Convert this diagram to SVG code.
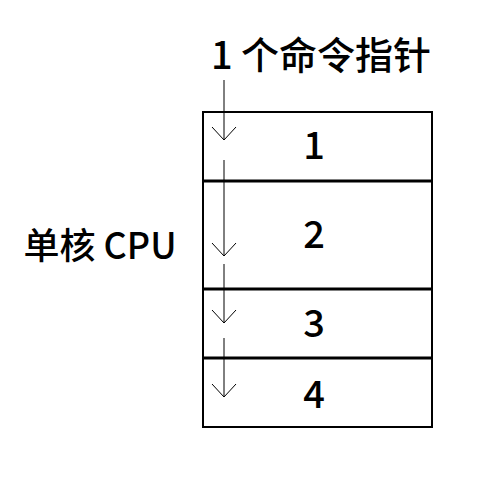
<svg xmlns="http://www.w3.org/2000/svg" width="500" height="500" viewBox="0 0 500 500">
<style>
text{font-family:"Noto Sans CJK SC","Noto Sans",sans-serif;fill:#000;font-weight:500}
.box{fill:none;stroke:#000;stroke-width:2}
.div{stroke:#000;stroke-width:3}
.arr{fill:none;stroke:#000;stroke-width:1}
</style>
<rect width="500" height="500" fill="#fff"/>
<g id="title"><text x="321" y="69" font-size="38" text-anchor="middle">1 个命令指针</text></g>
<g id="cpu-label"><text x="100" y="259" font-size="36" text-anchor="middle" font-weight="400">单核 CPU</text></g>
<g id="cpu">
<rect class="box" x="203" y="112" width="229" height="315"/>
<line class="div" x1="203" y1="181" x2="432" y2="181"/>
<line class="div" x1="203" y1="289" x2="432" y2="289"/>
<line class="div" x1="203" y1="358" x2="432" y2="358"/>
</g>
<g id="slot1"><text x="314" y="159" font-size="38" text-anchor="middle">1</text></g>
<g id="slot2"><text x="314" y="248" font-size="38" text-anchor="middle">2</text></g>
<g id="slot3"><text x="314" y="337" font-size="38" text-anchor="middle">3</text></g>
<g id="slot4"><text x="314" y="408" font-size="38" text-anchor="middle">4</text></g>
<g id="connectors">
<path class="arr" d="M224 80V140M212 127L224 140L236 127"/>
<path class="arr" d="M224 160V256M212 243L224 256L236 243"/>
<path class="arr" d="M224 264V323M212 310L224 323L236 310"/>
<path class="arr" d="M224 338V397M212 384L224 397L236 384"/>
</g>
</svg>
